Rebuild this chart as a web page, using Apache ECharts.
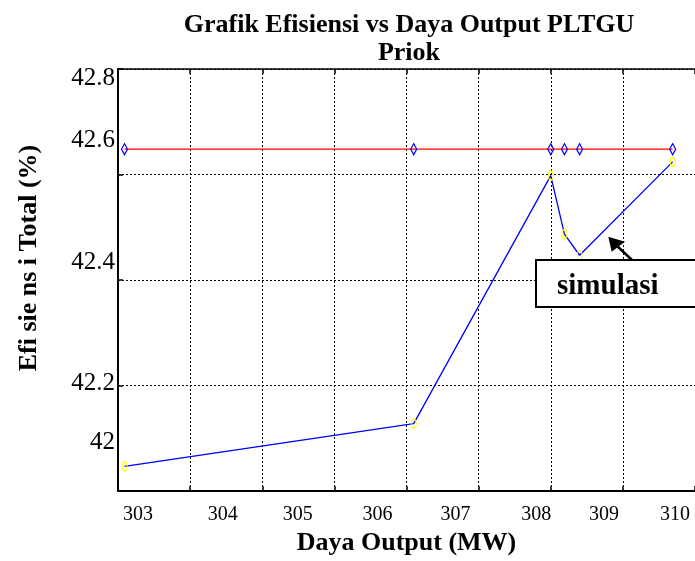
<!DOCTYPE html>
<html>
<head>
<meta charset="utf-8">
<script src="https://cdn.jsdelivr.net/npm/echarts@6/dist/echarts.min.js"></script>
<style>
  html, body { margin: 0; padding: 0; background: #fff; }
  #chart { width: 695px; height: 561px; }
</style>
</head>
<body>
<div id="chart"></div>
<script>
// ---- data ----
const outputMW     = [302.09, 306.10, 308.00, 308.19, 308.40, 309.69];
const effSimulasi  = [42.047, 42.128, 42.598, 42.487, 42.447, 42.624];
const effAktual    = [42.648, 42.648, 42.648, 42.648, 42.648, 42.648];

// tick labels as printed in the figure, and the axis values they sit at
const xTickText = ['303', '304', '305', '306', '307', '308', '309', '310'];
const xTickAt   = [302.277, 303.453, 304.491, 305.599, 306.678, 307.799, 308.740, 309.723];
const yTickText = ['42.8', '42.6', '42.4', '42.2', '42'];
const yTickAt   = [42.783, 42.665, 42.433, 42.204, 42.092];

const FONT = 'Liberation Serif';

function pick(texts, at) {
  return function (value) {
    let best = 0, d = Infinity;
    for (let i = 0; i < at.length; i++) {
      const dd = Math.abs(at[i] - value);
      if (dd < d) { d = dd; best = i; }
    }
    return texts[best];
  };
}

const chart = echarts.init(document.getElementById('chart'), null, { renderer: 'canvas' });

const gridLine = { show: true, lineStyle: { color: '#000', width: 1, type: [2, 2] } };

const option = {
  animation: false,
  backgroundColor: '#fff',
  title: {
    text: 'Grafik Efisiensi vs Daya Output PLTGU\nPriok',
    left: 404,
    top: 6,
    textAlign: 'center',
    textStyle: { fontFamily: FONT, fontWeight: 'bold', fontSize: 26, lineHeight: 28, color: '#000' }
  },
  grid: { left: 118, top: 69, width: 578, height: 427, containLabel: false },
  xAxis: [
    {
      type: 'value', position: 'bottom', min: 302, max: 310, interval: 1,
      axisLine: { show: true, lineStyle: { color: '#000', width: 2 } },
      axisTick: { show: true, inside: true, length: 5, lineStyle: { color: '#000', width: 1.5 } },
      splitLine: gridLine,
      axisLabel: {
        customValues: xTickAt,
        formatter: pick(xTickText, xTickAt),
        fontFamily: FONT, fontSize: 20, color: '#000', margin: 14
      },
      name: 'Daya Output (MW)',
      nameLocation: 'middle',
      nameGap: 38,
      nameTextStyle: { fontFamily: FONT, fontWeight: 'bold', fontSize: 26, color: '#000' }
    },
    {
      type: 'value', position: 'top', min: 302, max: 310, interval: 1,
      axisLine: { show: true, lineStyle: { color: '#000', width: 1.5 } },
      axisTick: { show: true, inside: true, length: 5, lineStyle: { color: '#000', width: 1.5 } },
      splitLine: { show: false },
      axisLabel: { show: false }
    }
  ],
  yAxis: [
    {
      type: 'value', min: 42.0, max: 42.8, interval: 0.2,
      axisLine: { show: true, lineStyle: { color: '#000', width: 2 } },
      axisTick: { show: true, inside: true, length: 5, lineStyle: { color: '#000', width: 1.5 } },
      splitLine: gridLine,
      axisLabel: {
        customValues: yTickAt,
        formatter: pick(yTickText, yTickAt),
        fontFamily: FONT, fontSize: 25, color: '#000', margin: 3
      },
      name: 'Efi sie ns i Total (%)',
      nameLocation: 'middle',
      nameRotate: 90,
      nameGap: 76,
      nameTextStyle: { fontFamily: FONT, fontWeight: 'bold', fontSize: 26, color: '#000', padding: [0, 0, 0, 44] }
    }
  ],
  series: [
    {
      name: 'aktual',
      type: 'line',
      data: outputMW.map((x, i) => [x, effAktual[i]]),
      lineStyle: { color: '#ff0000', width: 1.3 },
      symbol: 'diamond',
      symbolSize: [6, 11],
      itemStyle: { color: 'rgba(0,0,0,0)', borderColor: '#0000ff', borderWidth: 1.3 },
      z: 3
    },
    {
      name: 'simulasi',
      type: 'line',
      data: outputMW.map((x, i) => [x, effSimulasi[i]]),
      lineStyle: { color: '#0000ff', width: 1.3 },
      symbol: 'circle',
      symbolSize: [5, 9],
      itemStyle: { color: 'rgba(0,0,0,0)', borderColor: '#ffff00', borderWidth: 1.3 },
      z: 2
    }
  ],
  graphic: [
    {
      type: 'rect', z: 100,
      shape: { x: 536, y: 260, width: 170, height: 47 },
      style: { fill: '#fff', stroke: '#000', lineWidth: 2 }
    },
    {
      type: 'text', z: 101,
      x: 557, y: 287,
      style: { text: 'simulasi', fontFamily: FONT, fontWeight: 'bold', fontSize: 29, fill: '#000', verticalAlign: 'middle', align: 'left' }
    },
    {
      type: 'line', z: 100,
      shape: { x1: 632, y1: 260, x2: 616, y2: 245 },
      style: { stroke: '#000', lineWidth: 2.5 }
    },
    {
      type: 'polygon', z: 100,
      shape: { points: [[608.3, 236.7], [611.7, 251.7], [625, 241.7]] },
      style: { fill: '#000' }
    }
  ]
};

chart.setOption(option);
</script>
</body>
</html>
